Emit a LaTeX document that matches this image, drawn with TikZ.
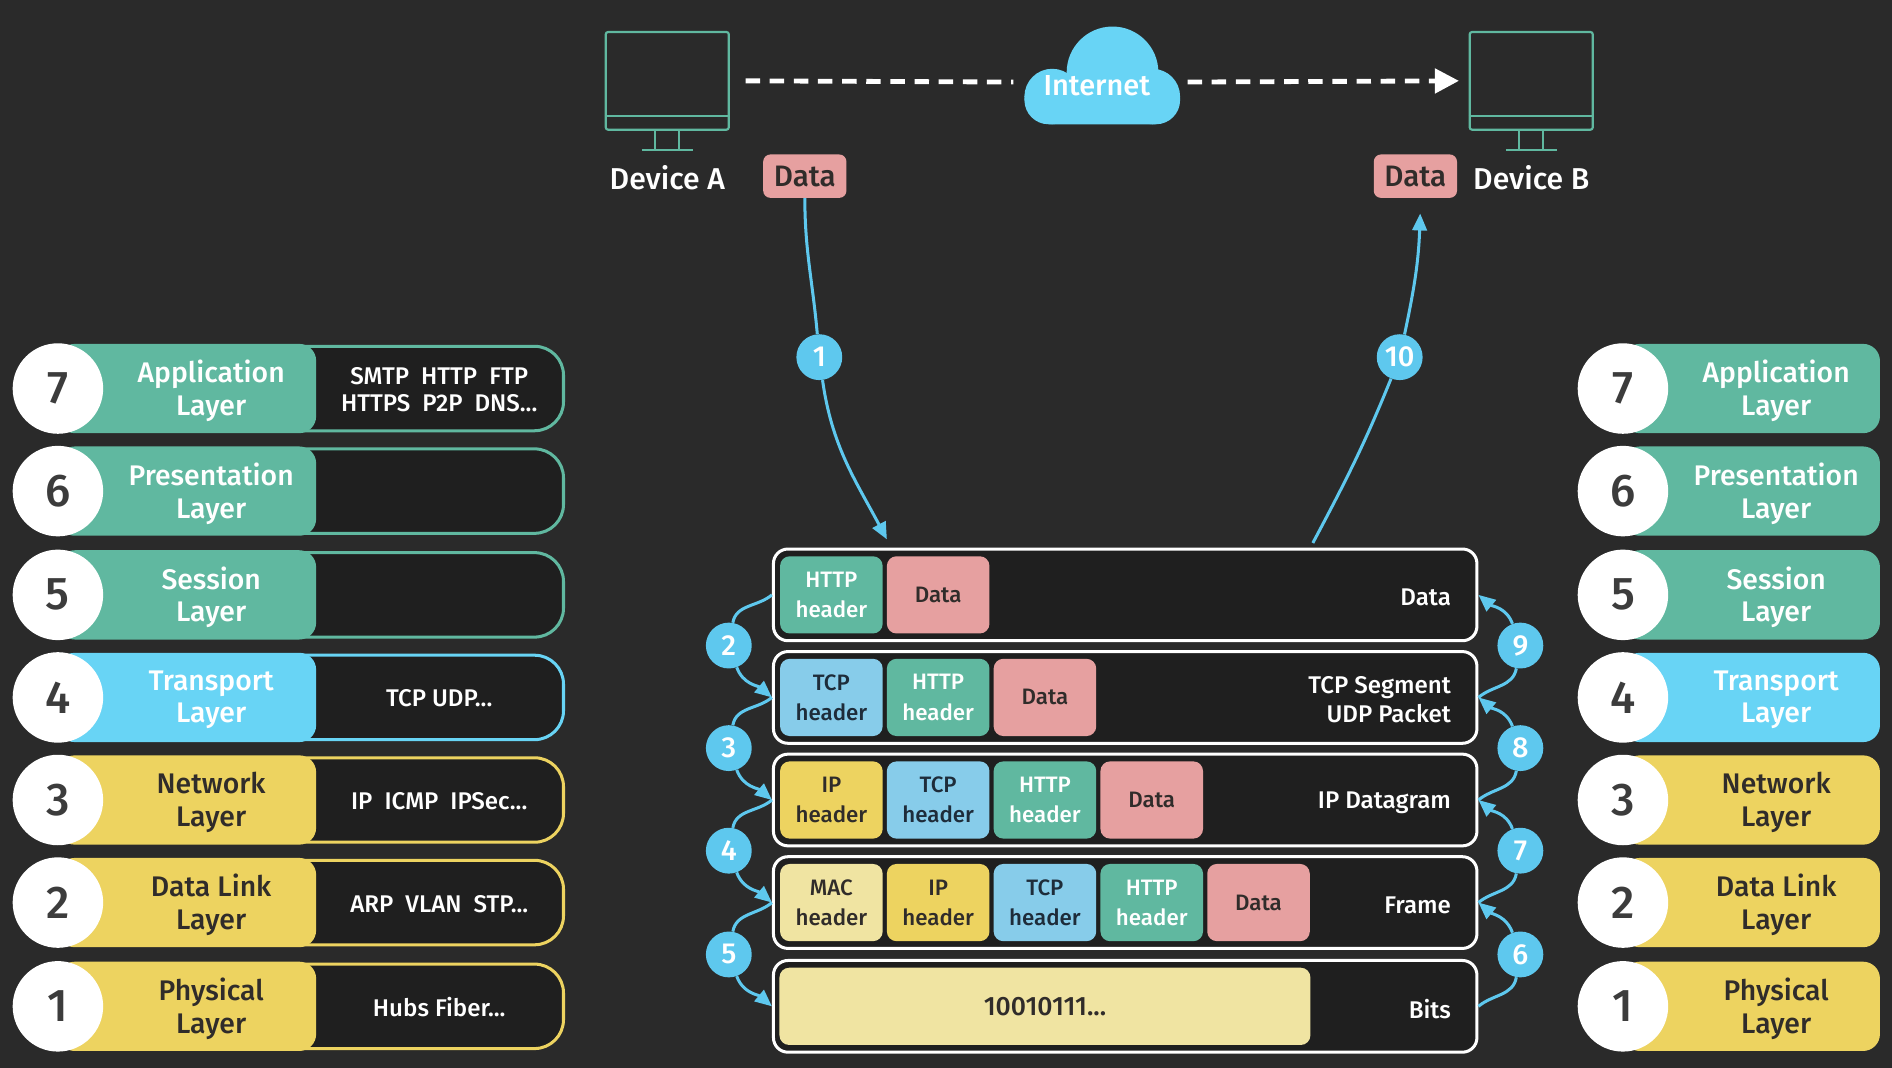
\documentclass[tikz,border=0pt]{standalone}
\usepackage{fontspec}
\setmainfont{Fira Sans Medium}
\usetikzlibrary{arrows.meta}
\definecolor{bgc}{RGB}{42,42,42}
\definecolor{boxc}{RGB}{31,31,31}
\definecolor{cTeal}{RGB}{96,184,160}
\definecolor{cBlue}{RGB}{104,212,245}
\definecolor{cYel}{RGB}{237,211,96}
\definecolor{cTcp}{RGB}{135,204,234}
\definecolor{cMac}{RGB}{240,228,162}
\definecolor{cPink}{RGB}{230,160,160}
\definecolor{cStep}{RGB}{94,200,238}
\definecolor{cDark}{RGB}{48,44,42}
\definecolor{cNavy}{RGB}{30,44,58}
\definecolor{cNum}{RGB}{60,60,60}
\newcommand\myfs[2]{\fontsize{#1}{#2}\selectfont}
\newcommand\gap{\hspace{10pt}}
\begin{document}
\begin{tikzpicture}[x=1pt,y=-1pt,
  num/.style={circle,fill=white,minimum size=75pt,inner sep=0pt,text=cNum,font=\myfs{38}{40}},
  lay/.style={align=center,font=\myfs{23.5}{27}},
  proto/.style={align=center,text=white,font=\myfs{20}{23}},
  rowbox/.style={draw=white,line width=2.5pt,rounded corners=12pt,fill=boxc,minimum width=583pt,minimum height=76pt,inner sep=0pt},
  hb/.style={rounded corners=8pt,minimum width=85pt,minimum height=64pt,inner sep=0pt,align=center,font=\myfs{18.5}{25}},
  httpb/.style={hb,fill=cTeal,text=white},
  tcpb/.style={hb,fill=cTcp,text=cNavy},
  ipb/.style={hb,fill=cYel,text=cDark},
  macb/.style={hb,fill=cMac,text=cDark},
  datab/.style={hb,fill=cPink,text=cDark},
  rlab/.style={anchor=east,align=right,text=white,font=\myfs{20}{24}},
  stepc/.style={circle,fill=cStep,minimum size=38pt,inner sep=0pt,text=white,font=\myfs{24}{28}},
  conn/.style={draw=cStep,line width=2.5pt},
  aro/.style={-{Triangle[length=14pt,width=12pt]}},
  mon/.style={draw=cTeal,line width=1.8pt,rounded corners=2pt,minimum width=102pt,minimum height=81pt,inner sep=0pt},
  monl/.style={draw=cTeal,line width=1.8pt},
  dbox/.style={fill=cPink,rounded corners=6pt,minimum width=69pt,minimum height=36pt,inner sep=0pt,text=cDark,font=\myfs{24.5}{26}},
  devl/.style={text=white,font=\myfs{25}{28}},
  dashl/.style={draw=white,line width=4pt,dash pattern=on 12pt off 8pt}
]
\fill[bgc] (0,0) rectangle (1568,885);
\useasboundingbox (0,0) rectangle (1568,885);

% ---- layer bars ----
\foreach \n/\y/\nm/\col/\tc/\pr in {
 7/322/{Application\\Layer}/cTeal/white/{SMTP\gap HTTP\gap FTP\\HTTPS\gap P2P\gap DNS...},
 6/407/{Presentation\\Layer}/cTeal/white/{},
 5/493/{Session\\Layer}/cTeal/white/{},
 4/578/{Transport\\Layer}/cBlue/white/{TCP UDP...},
 3/663/{Network\\Layer}/cYel/cDark/{IP\gap ICMP\gap IPSec...},
 2/748/{Data Link\\Layer}/cYel/cDark/{ARP\gap VLAN\gap STP...},
 1/834/{Physical\\Layer}/cYel/cDark/{Hubs Fiber...}}
{
 \draw[draw=\col,line width=2.5pt,fill=boxc,rounded corners=24pt] (210,\y-35) rectangle (467,\y+35);
 \fill[\col,rounded corners=14pt] (48,\y-37) rectangle (262,\y+37);
 \node[num] (Ln\n) at (48,\y) {\n};
 \node[lay,text=\tc] (Ll\n) at (175,\y+2) {\nm};
 \node[proto] (Lp\n) at (364,\y+1) {\pr};
 \fill[\col,rounded corners=14pt] (1345,\y-37) rectangle (1558,\y+37);
 \node[num] (Rn\n) at (1345,\y) {\n};
 \node[lay,text=\tc] (Rl\n) at (1472,\y+2) {\nm};
}

% ---- devices ----
\node[mon] (mA) at (553,67) {};
\node[mon] (mB) at (1269,67) {};
\foreach \m in {mA,mB}{
 \draw[monl] ([yshift=12pt]\m.south west) -- ([yshift=12pt]\m.south east);
 \draw[monl] ([xshift=-10pt]\m.south) -- ++(0,15) ([xshift=10pt]\m.south) -- ++(0,15)
   ([xshift=-21pt,yshift=-16pt]\m.south) -- ++(42,0);
}
\node[devl] (lA) at (553,147) {Device A};
\node[devl] (lB) at (1269,147) {Device B};
\node[dbox] (dA) at (667,146) {Data};
\node[dbox] (dB) at (1173,146) {Data};

% ---- cloud ----
\fill[cBlue] (922,60) circle (38);
\fill[cBlue] (872,80) circle (23);
\fill[cBlue] (955,80) circle (23);
\fill[cBlue,rounded corners=20pt] (849,62) rectangle (978,103);
\node[inner sep=0pt,minimum width=130pt,minimum height=1pt] (cl) at (913,68) {};
\node[text=white,font=\myfs{24}{26}] (inet) at (909,71) {Internet};
\draw[dashl] ([xshift=13pt]mA.east) -- ([xshift=-8pt]cl.west);
\draw[dashl,-{Triangle[length=20pt,width=20pt]}] ([xshift=6pt]cl.east) -- ([xshift=-8pt]mB.west);

% ---- central stack ----
\foreach \n/\y/\lab in {5/493/Data,4/578/{TCP Segment\\UDP Packet},3/663/IP Datagram,2/748/Frame,1/834/Bits}
{
 \node[rowbox] (R\n) at (932.5,\y) {};
 \node[rlab] (RL\n) at (1206,\y+2) {\lab};
}
\node[httpb] (h5a) at (689,493) {HTTP\\header};
\node[datab] (h5b) at (777.5,493) {Data};

\node[tcpb] (h4a) at (689,578) {TCP\\header};
\node[httpb] (h4b) at (777.5,578) {HTTP\\header};
\node[datab] (h4c) at (866,578) {Data};

\node[ipb] (h3a) at (689,663) {IP\\header};
\node[tcpb] (h3b) at (777.5,663) {TCP\\header};
\node[httpb] (h3c) at (866,663) {HTTP\\header};
\node[datab] (h3d) at (954.5,663) {Data};

\node[macb] (h2a) at (689,748) {MAC\\header};
\node[ipb] (h2b) at (777.5,748) {IP\\header};
\node[tcpb] (h2c) at (866,748) {TCP\\header};
\node[httpb] (h2d) at (954.5,748) {HTTP\\header};
\node[datab] (h2e) at (1043,748) {Data};

\node[hb,fill=cMac,text=cDark,minimum width=440pt,font=\myfs{22}{25}] (h1a) at (866,834) {10010111...};

% ---- steps ----
\node[stepc] (c1) at (679,296) {1};
\node[stepc] (c10) at (1160,296) {10};
\node[stepc] (c2) at (604,535) {2};
\node[stepc] (c3) at (604,620) {3};
\node[stepc] (c4) at (604,705) {4};
\node[stepc] (c5) at (604,791) {5};
\node[stepc] (c6) at (1260,791) {6};
\node[stepc] (c7) at (1260,705) {7};
\node[stepc] (c8) at (1260,620) {8};
\node[stepc] (c9) at (1260,535) {9};

\coordinate (e1) at (735,447);
\coordinate (s10) at (1088,450);
\coordinate (e10) at (1177,177);
\draw[conn] (dA.south) to[out=-90,in=95] (c1);
\draw[conn,aro] (c1) to[out=-82,in=118] (e1);
\draw[conn] (s10) to[out=62,in=-112] (c10);
\draw[conn,aro] (c10) to[out=78,in=-92] (e10);

\foreach \a/\c/\b in {R5/c2/R4,R4/c3/R3,R3/c4/R2,R2/c5/R1}{
 \draw[conn] (\a.west) to[out=220,in=80] (\c);
 \draw[conn,aro] (\c) to[out=-70,in=140] (\b.west);
}
\foreach \a/\c/\b in {R1/c6/R2,R2/c7/R3,R3/c8/R4,R4/c9/R5}{
 \draw[conn] (\a.east) to[out=40,in=-100] (\c);
 \draw[conn,aro] (\c) to[out=110,in=-40] (\b.east);
}
\end{tikzpicture}
\end{document}
